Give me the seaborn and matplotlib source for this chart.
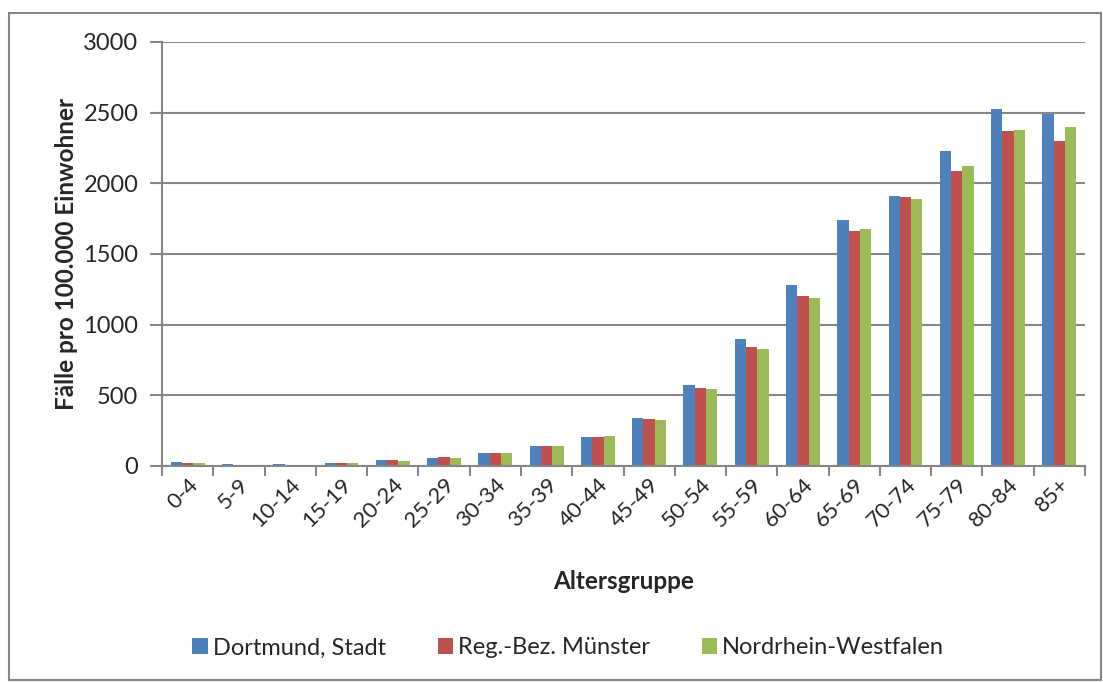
import pandas as pd
import numpy as np
import matplotlib
matplotlib.use("Agg")
import matplotlib.pyplot as plt
import seaborn as sns
from matplotlib.patches import Rectangle

# Altersgruppen und Fälle pro 100.000 Einwohner
altersgruppen = ["0-4", "5-9", "10-14", "15-19", "20-24", "25-29", "30-34", "35-39", "40-44",
                 "45-49", "50-54", "55-59", "60-64", "65-69", "70-74", "75-79", "80-84", "85+"]
dortmund = [25, 14, 14, 20, 45, 57, 90, 144, 203, 343, 571, 901, 1278, 1744, 1908, 2231, 2523, 2491]
muenster = [22, 10, 10, 20, 40, 64, 94, 144, 207, 333, 554, 840, 1206, 1661, 1901, 2090, 2373, 2297]
nrw = [21, 8, 10, 20, 35, 59, 90, 139, 215, 328, 542, 826, 1187, 1675, 1892, 2122, 2380, 2401]
regionen = ["Dortmund, Stadt", "Reg.-Bez. Münster", "Nordrhein-Westfalen"]
farben = ["#4F81BD", "#C0504D", "#9BBB59"]

# Long-Format für seaborn
df = pd.DataFrame({
    "Altersgruppe": altersgruppen * 3,
    "Wert": dortmund + muenster + nrw,
    "Region": [r for r in regionen for _ in altersgruppen],
})

sns.set_style("white")
plt.rcParams["font.family"] = ["Lato", "DejaVu Sans"]

fig = plt.figure(figsize=(11.03, 6.82), dpi=100)
ax = fig.add_axes([162 / 1103, 1 - 466 / 682, (1085 - 162) / 1103, (466 - 42) / 682])

sns.barplot(data=df, x="Altersgruppe", y="Wert", hue="Region", palette=farben,
            width=0.66, saturation=1, ax=ax, errorbar=None, linewidth=0)

# Achsen
ax.set_ylim(0, 3000)
ax.set_yticks(range(0, 3001, 500))
ax.set_xlim(-0.5, len(altersgruppen) - 0.5)
ax.yaxis.grid(True, color="#868686", linewidth=1.5)
ax.set_axisbelow(True)
for s in ["top", "right"]:
    ax.spines[s].set_visible(False)
for s in ["left", "bottom"]:
    ax.spines[s].set_color("#868686")
    ax.spines[s].set_linewidth(1.5)

ax.tick_params(axis="y", length=9, width=1.5, color="#868686", labelsize=17, pad=8, left=True)
ax.tick_params(axis="x", which="major", length=0, labelsize=16, pad=6)
ax.set_xticks(np.arange(-0.5, len(altersgruppen)), minor=True)
ax.tick_params(axis="x", which="minor", length=7, width=1.5, color="#868686", bottom=True)
plt.setp(ax.get_xticklabels(), rotation=45, ha="right", rotation_mode="anchor")

ax.set_xlabel("Altersgruppe", fontsize=17.5, fontweight="bold", labelpad=28)
ax.set_ylabel("Fälle pro 100.000 Einwohner", fontsize=17.5, fontweight="bold", labelpad=4)

# Legende unten
ax.legend(title=None, loc="center", bbox_to_anchor=(0.515, 1 - 648 / 682), bbox_transform=fig.transFigure,
          ncol=3, frameon=False, fontsize=17, handlelength=0.65, handleheight=0.65,
          handletextpad=0.2, columnspacing=2.2)

# Rahmen um das Diagramm
fig.patches.append(Rectangle((9 / 1103, 2 / 682), 1092 / 1103, 667 / 682, transform=fig.transFigure,
                             fill=False, edgecolor="#868686", linewidth=1.5))

fig.savefig("out.png", dpi=100)
